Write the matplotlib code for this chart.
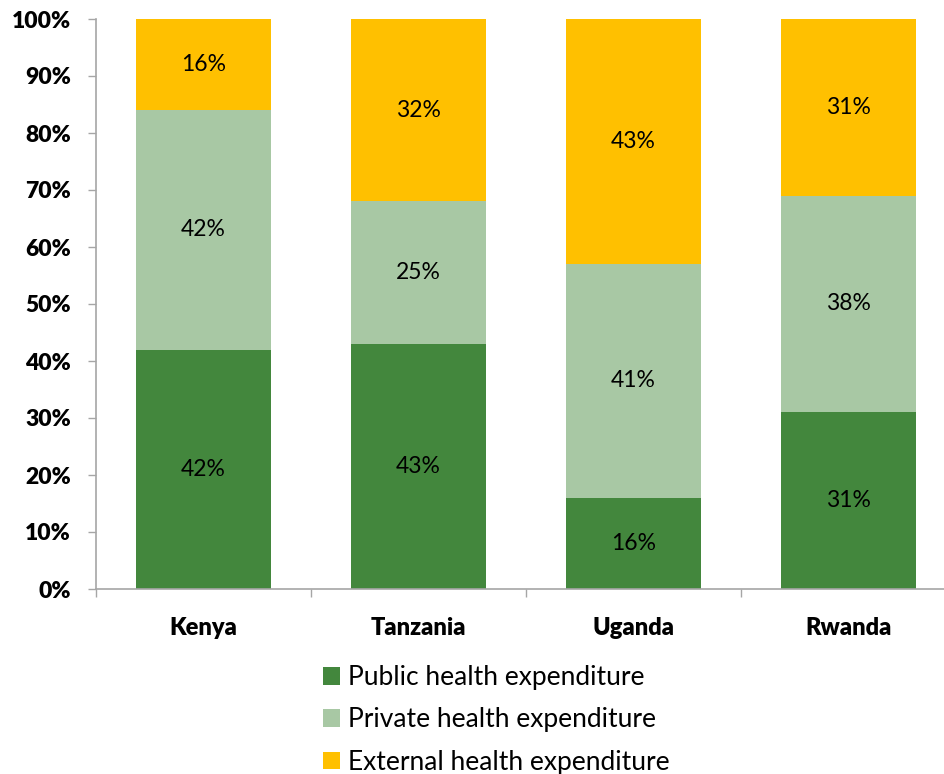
"""
Health expenditure mix by source, East African countries (100% stacked bars)
"""
import matplotlib.pyplot as plt
from matplotlib.patches import Patch
from matplotlib.ticker import PercentFormatter
import numpy as np

countries = ['Kenya', 'Tanzania', 'Uganda', 'Rwanda']
public_share = [42, 43, 16, 31]
private_share = [42, 25, 41, 38]
external_share = [16, 32, 43, 31]

series_names = ['Public health expenditure', 'Private health expenditure', 'External health expenditure']
series_colors = ['#43873D', '#A8C8A4', '#FFC000']
axis_grey = '#A6A6A6'

plt.rcParams['font.family'] = ['Lato', 'DejaVu Sans']

dpi = 100
fig = plt.figure(figsize=(9.44, 7.74), dpi=dpi)
# plot area runs slightly past the right edge of the figure
ax = fig.add_axes([96 / 944, 1 - 589 / 774, 860 / 944, 570 / 774])

x = np.arange(len(countries))
bottom = np.zeros(len(countries))
for values, color in zip([public_share, private_share, external_share], series_colors):
    vals = np.array(values, dtype=float)
    bars = ax.bar(x, vals, width=0.628, bottom=bottom, color=color, edgecolor='none', zorder=2)
    for rect, v in zip(bars, vals):
        ax.text(rect.get_x() + rect.get_width() / 2, rect.get_y() + v / 2, f'{v:.0f}%',
                ha='center', va='center', fontsize=16.5, color='black')
    bottom += vals

ax.set_xlim(-0.5, len(countries) - 0.5)
ax.set_ylim(0, 100)
ax.set_yticks(np.arange(0, 101, 10))
ax.yaxis.set_major_formatter(PercentFormatter(decimals=0))
ax.tick_params(axis='y', length=6, width=1, color=axis_grey, pad=12, labelsize=16.5)
for lbl in ax.get_yticklabels():
    lbl.set_fontweight('heavy')

ax.set_xticks(x)
ax.set_xticklabels(countries, fontweight='heavy', fontsize=17)
ax.set_xticks(np.arange(-0.5, len(countries), 1), minor=True)
ax.tick_params(axis='x', which='major', length=0, pad=20)
ax.tick_params(axis='x', which='minor', length=6, width=1, color=axis_grey)

for side in ['top', 'right']:
    ax.spines[side].set_visible(False)
for side in ['left', 'bottom']:
    ax.spines[side].set_color(axis_grey)
    ax.spines[side].set_linewidth(1.2)

handles = [Patch(facecolor=c, edgecolor='none') for c in series_colors]
fig.legend(handles, series_names, loc='upper left', bbox_to_anchor=(323 / 944, 1 - 665 / 774),
           frameon=False, fontsize=19, handlelength=0.65, handleheight=0.65,
           handletextpad=0.3, labelspacing=0.66, borderpad=0, borderaxespad=0)

plt.savefig('out.png', dpi=dpi, facecolor='white')
plt.close()
